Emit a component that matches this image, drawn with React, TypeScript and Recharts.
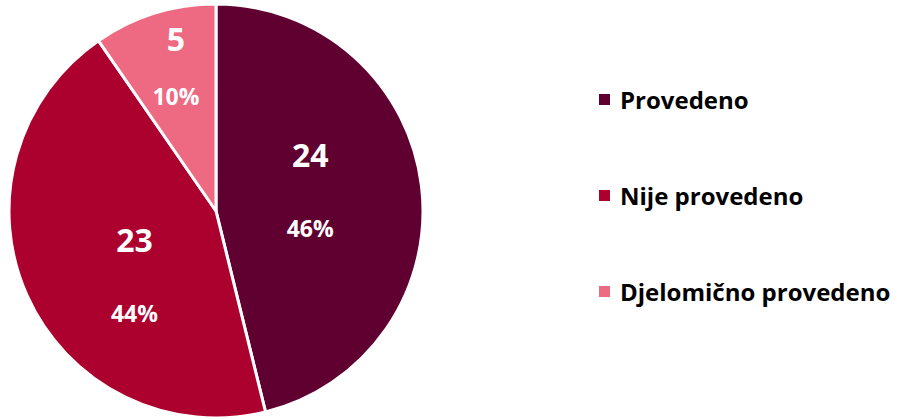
import React from 'react';
import { PieChart, Pie, Cell, Legend } from 'recharts';

const categories = ['Provedeno', 'Nije provedeno', 'Djelomično provedeno'];
const counts = [24, 23, 5];
const percentLabels = ['46%', '44%', '10%'];
const colors = ['#600030', '#AC002F', '#EE6A82'];
const labelRadiusFactors = [0.465, 0.505, 0.72];
const labelAngleOffsets = [5, 14.5, -1.7];
const labelGaps = [74, 73, 58];

const data = categories.map((name, i) => ({ name, value: counts[i], pct: percentLabels[i] }));

const FONT = '"Open Sans", Lato, sans-serif';
const RAD = Math.PI / 180;

const renderLabel = (props: any) => {
  const { cx, cy, midAngle, outerRadius, index } = props;
  const r = outerRadius * labelRadiusFactors[index];
  const a = (midAngle + labelAngleOffsets[index]) * RAD;
  const x = cx + r * Math.cos(-a);
  const y = cy + r * Math.sin(-a);
  const g = labelGaps[index] / 2;
  return (
    <g>
      <text x={x} y={y - g} fill="#fff" textAnchor="middle" dominantBaseline="central"
        fontFamily={FONT} fontWeight={700} fontSize={32}>{counts[index]}</text>
      <text x={x} y={y + g} fill="#fff" textAnchor="middle" dominantBaseline="central"
        fontFamily={FONT} fontWeight={700} fontSize={23}>{percentLabels[index]}</text>
    </g>
  );
};

const renderLegend = () => (
  <div style={{ display: 'flex', flexDirection: 'column', gap: 0 }}>
    {categories.map((c, i) => (
      <div key={c} style={{ display: 'flex', alignItems: 'center', height: 96 }}>
        <span style={{ width: 11, height: 11, background: colors[i], display: 'inline-block', marginRight: 10 }} />
        <span style={{ fontFamily: FONT, fontWeight: 700, fontSize: 24, color: '#000' }}>{c}</span>
      </div>
    ))}
  </div>
);

export default function App() {
  return (
    <div style={{ position: 'absolute', left: 0, top: 0, background: '#fff' }}>
      <PieChart width={900} height={419} margin={{ top: 0, right: 0, bottom: 0, left: 0 }}>
        <Pie
          data={data}
          dataKey="value"
          nameKey="name"
          cx={216}
          cy={211}
          outerRadius={207}
          startAngle={90}
          endAngle={-270}
          stroke="#fff"
          strokeWidth={3}
          label={renderLabel}
          labelLine={false}
          isAnimationActive={false}
        >
          {data.map((d, i) => (
            <Cell key={d.name} fill={colors[i]} />
          ))}
        </Pie>
        <Legend content={renderLegend} wrapperStyle={{ position: 'absolute', left: 599, top: 51, width: 300 }} />
      </PieChart>
    </div>
  );
}
